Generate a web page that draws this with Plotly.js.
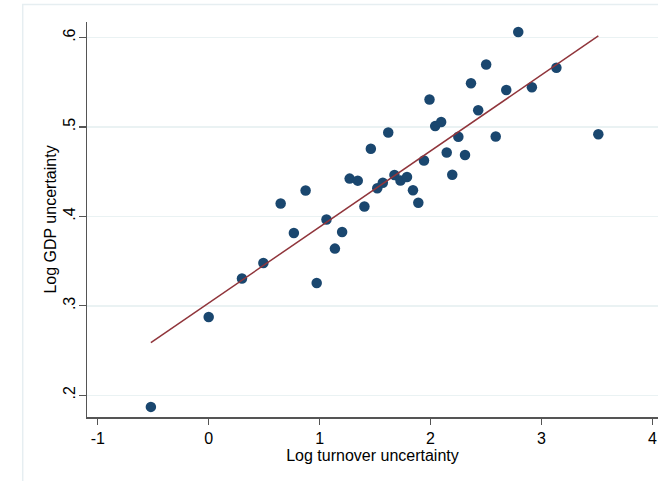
<!DOCTYPE html>
<html>
<head>
<meta charset="utf-8">
<script src="https://cdn.plot.ly/plotly-3.0.1.min.js"></script>
<style>html,body{margin:0;padding:0;background:#fff;}#chart{width:658px;height:481px;}</style>
</head>
<body>
<div id="chart"></div>
<script>
// Log turnover uncertainty (x) and Log GDP uncertainty (y)
const turnover = [-0.521, 0.000, 0.300, 0.493, 0.649, 0.768, 0.874, 0.974, 1.062, 1.138,
  1.203, 1.271, 1.344, 1.404, 1.462, 1.520, 1.570, 1.619, 1.675, 1.729,
  1.788, 1.842, 1.890, 1.941, 1.991, 2.042, 2.096, 2.146, 2.196, 2.251,
  2.311, 2.365, 2.430, 2.502, 2.588, 2.683, 2.791, 2.914, 3.135, 3.513];
const gdp = [0.187, 0.2875, 0.3305, 0.348, 0.4145, 0.3815, 0.429, 0.3255, 0.3965, 0.364,
  0.3826, 0.4423, 0.440, 0.411, 0.4757, 0.4315, 0.4376, 0.4939, 0.4463, 0.4402,
  0.4441, 0.4293, 0.4153, 0.4625, 0.5307, 0.501, 0.5055, 0.4715, 0.4466, 0.4891,
  0.4687, 0.5489, 0.5187, 0.5698, 0.4894, 0.5414, 0.6063, 0.5444, 0.5662, 0.4919];
// Fitted line end points
const fitX = [-0.521, 3.513];
const fitY = [0.2589, 0.6018];
// Tick labels
const xTicks = [-1, 0, 1, 2, 3, 4];
const xTickText = ["-1", "0", "1", "2", "3", "4"];
const yTicks = [0.2, 0.3, 0.4, 0.5, 0.6];
const yTickText = [".2", ".3", ".4", ".5", ".6"];

const traces = [
  {x: turnover, y: gdp, type: 'scatter', mode: 'markers',
   marker: {color: '#1a476f', size: 10.5}, hoverinfo: 'skip', cliponaxis: false},
  {x: fitX, y: fitY, type: 'scatter', mode: 'lines',
   line: {color: '#90353b', width: 1.5}, hoverinfo: 'skip'}
];

const layout = {
  width: 658, height: 481,
  margin: {l: 87, r: 0, t: 22, b: 64},
  paper_bgcolor: '#ffffff', plot_bgcolor: '#ffffff',
  showlegend: false,
  font: {family: 'Liberation Sans, Arial, sans-serif', size: 16, color: '#000'},
  xaxis: {
    range: [-1.097, 4.051], tickvals: xTicks, ticktext: xTickText,
    showgrid: false, zeroline: false, showline: true, linecolor: '#555', linewidth: 1.5,
    ticks: 'outside', ticklen: 6, tickcolor: '#555', tickwidth: 1.2,
    tickfont: {size: 16}, automargin: false,
    title: {text: 'Log turnover uncertainty', font: {size: 16}, standoff: 1}
  },
  yaxis: {
    range: [0.1757, 0.6174], tickvals: yTicks, ticktext: yTickText,
    showgrid: true, gridcolor: '#eaf2f3', gridwidth: 1.5, zeroline: false,
    showline: true, linecolor: '#555', linewidth: 1.5,
    ticks: 'outside', ticklen: 7, tickcolor: '#555', tickwidth: 1.2,
    tickangle: -90, tickfont: {size: 16}, automargin: false, ticklabelstandoff: -3,
    title: {text: 'Log GDP uncertainty', font: {size: 16}, standoff: 0}
  },
  shapes: [
    {type: 'rect', xref: 'paper', yref: 'paper', x0: -0.1126, x1: 1.2, y0: -0.3, y1: 1.044,
     line: {color: '#e6eef1', width: 1.5}, fillcolor: 'rgba(0,0,0,0)', layer: 'below'}
  ]
};

Plotly.newPlot('chart', traces, layout, {staticPlot: true, displayModeBar: false});
</script>
</body>
</html>
